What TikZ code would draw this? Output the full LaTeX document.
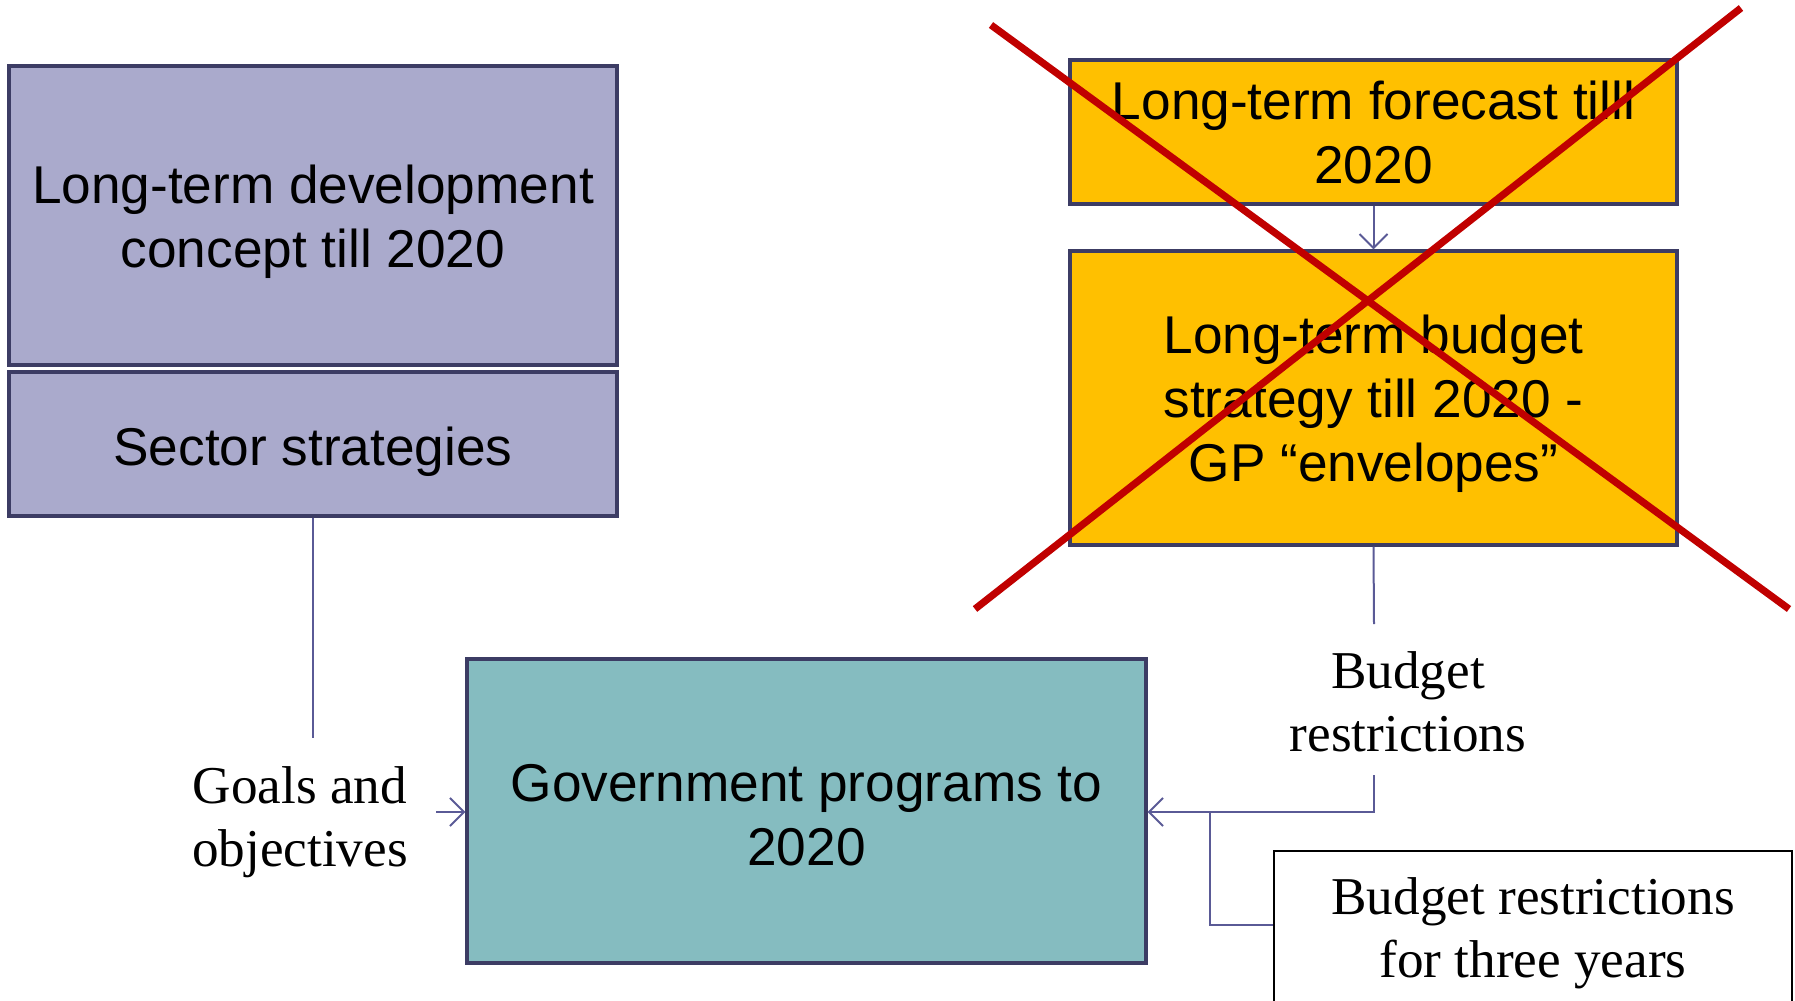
\documentclass[tikz,border=0pt]{standalone}
\usepackage{fontspec}
\setmainfont{Liberation Sans}
\newfontfamily\serifface{Liberation Serif}
\usetikzlibrary{arrows.meta}
\definecolor{lav}{RGB}{170,170,204}
\definecolor{navy}{RGB}{60,60,100}
\definecolor{gold}{RGB}{255,192,0}
\definecolor{teal2}{RGB}{133,188,192}
\definecolor{conn}{RGB}{90,90,150}
\definecolor{xred}{RGB}{192,0,0}
\tikzset{
  box/.style={draw=navy, line width=1.6pt, inner sep=0pt},
  boxtext/.style={inner sep=0pt, align=center, font=\fontsize{26.6pt}{32pt}\selectfont},
  lbl/.style={inner sep=0pt, align=center, font=\serifface\fontsize{26.6pt}{31.5pt}\selectfont},
  link/.style={draw=conn, line width=1pt},
  arr/.style={link, -{Straight Barb[length=7pt, width=14pt, line width=1pt]}},
  cross/.style={draw=xred, line width=3.6pt}
}
\begin{document}
\begin{tikzpicture}[x=0.5pt, y=-0.5pt]
\useasboundingbox (0,0) rectangle (1795,1001);
\begin{scope}
\clip (0,0) rectangle (1795,1001);
\node[box, fill=lav, minimum width=304pt, minimum height=149.5pt] (concept) at (313,215.5) {};
\node[boxtext] (conceptT) at (313,222) {Long-term development\\concept till 2020};
\node[box, fill=lav, minimum width=304pt, minimum height=72pt] (sector) at (313,444) {};
\node[boxtext] (sectorT) at (313,452) {Sector strategies};
\node[box, fill=teal2, minimum width=339.5pt, minimum height=152pt] (gov) at (806.5,811) {};
\node[boxtext] (govT) at (806.5,815) {Government programs to\\2020};
\node[box, fill=gold, minimum width=303.5pt, minimum height=72pt] (fore) at (1373.5,132) {};
\node[boxtext] (foreT) at (1373.5,132) {Long-term forecast tilll\\2020};
\node[box, fill=gold, minimum width=303.5pt, minimum height=147pt] (strat) at (1373.5,398) {};
\node[boxtext] (stratT) at (1373.5,404) {Long-term budget\\strategy till 2020 -\\GP “envelopes”};
\node[box, draw=black, line width=1pt, fill=white, minimum width=259pt, minimum height=79pt] (three) at (1533,930) {};
\node[lbl] (threeT) at (1533,933) {Budget restrictions\\for three years};

\node[lbl] (goals) at (300,822) {Goals and\\objectives};
\node[lbl] (brest) at (1408,702) {Budget\\restrictions};

\coordinate (gend) at (313,738);
\coordinate (gstart) at (436,812);
\coordinate (bend) at (1374,624);
\coordinate (bstart) at (1374,775);
\coordinate (bcorner) at (1374,812);
\coordinate (jn) at (1210,812);
\coordinate (jd) at (1210,925);

\draw[link] (sector.south) -- (gend);
\draw[arr] (gstart) -- (gov.west |- gstart);
\draw[arr] (fore.south) -- (strat.north);
\draw[link] (strat.south) -- (bend);
\draw[arr] (bstart) -- (bcorner) -- (gov.east |- bcorner);
\draw[link] (jn) -- (jd) -- (three.west |- jd);

\coordinate (x1a) at (991,25);
\coordinate (x1b) at (1789,609);
\coordinate (x2a) at (1741,8);
\coordinate (x2b) at (975,609);
\draw[cross] (x1a) -- (x1b);
\draw[cross] (x2a) -- (x2b);
\end{scope}
\end{tikzpicture}
\end{document}
